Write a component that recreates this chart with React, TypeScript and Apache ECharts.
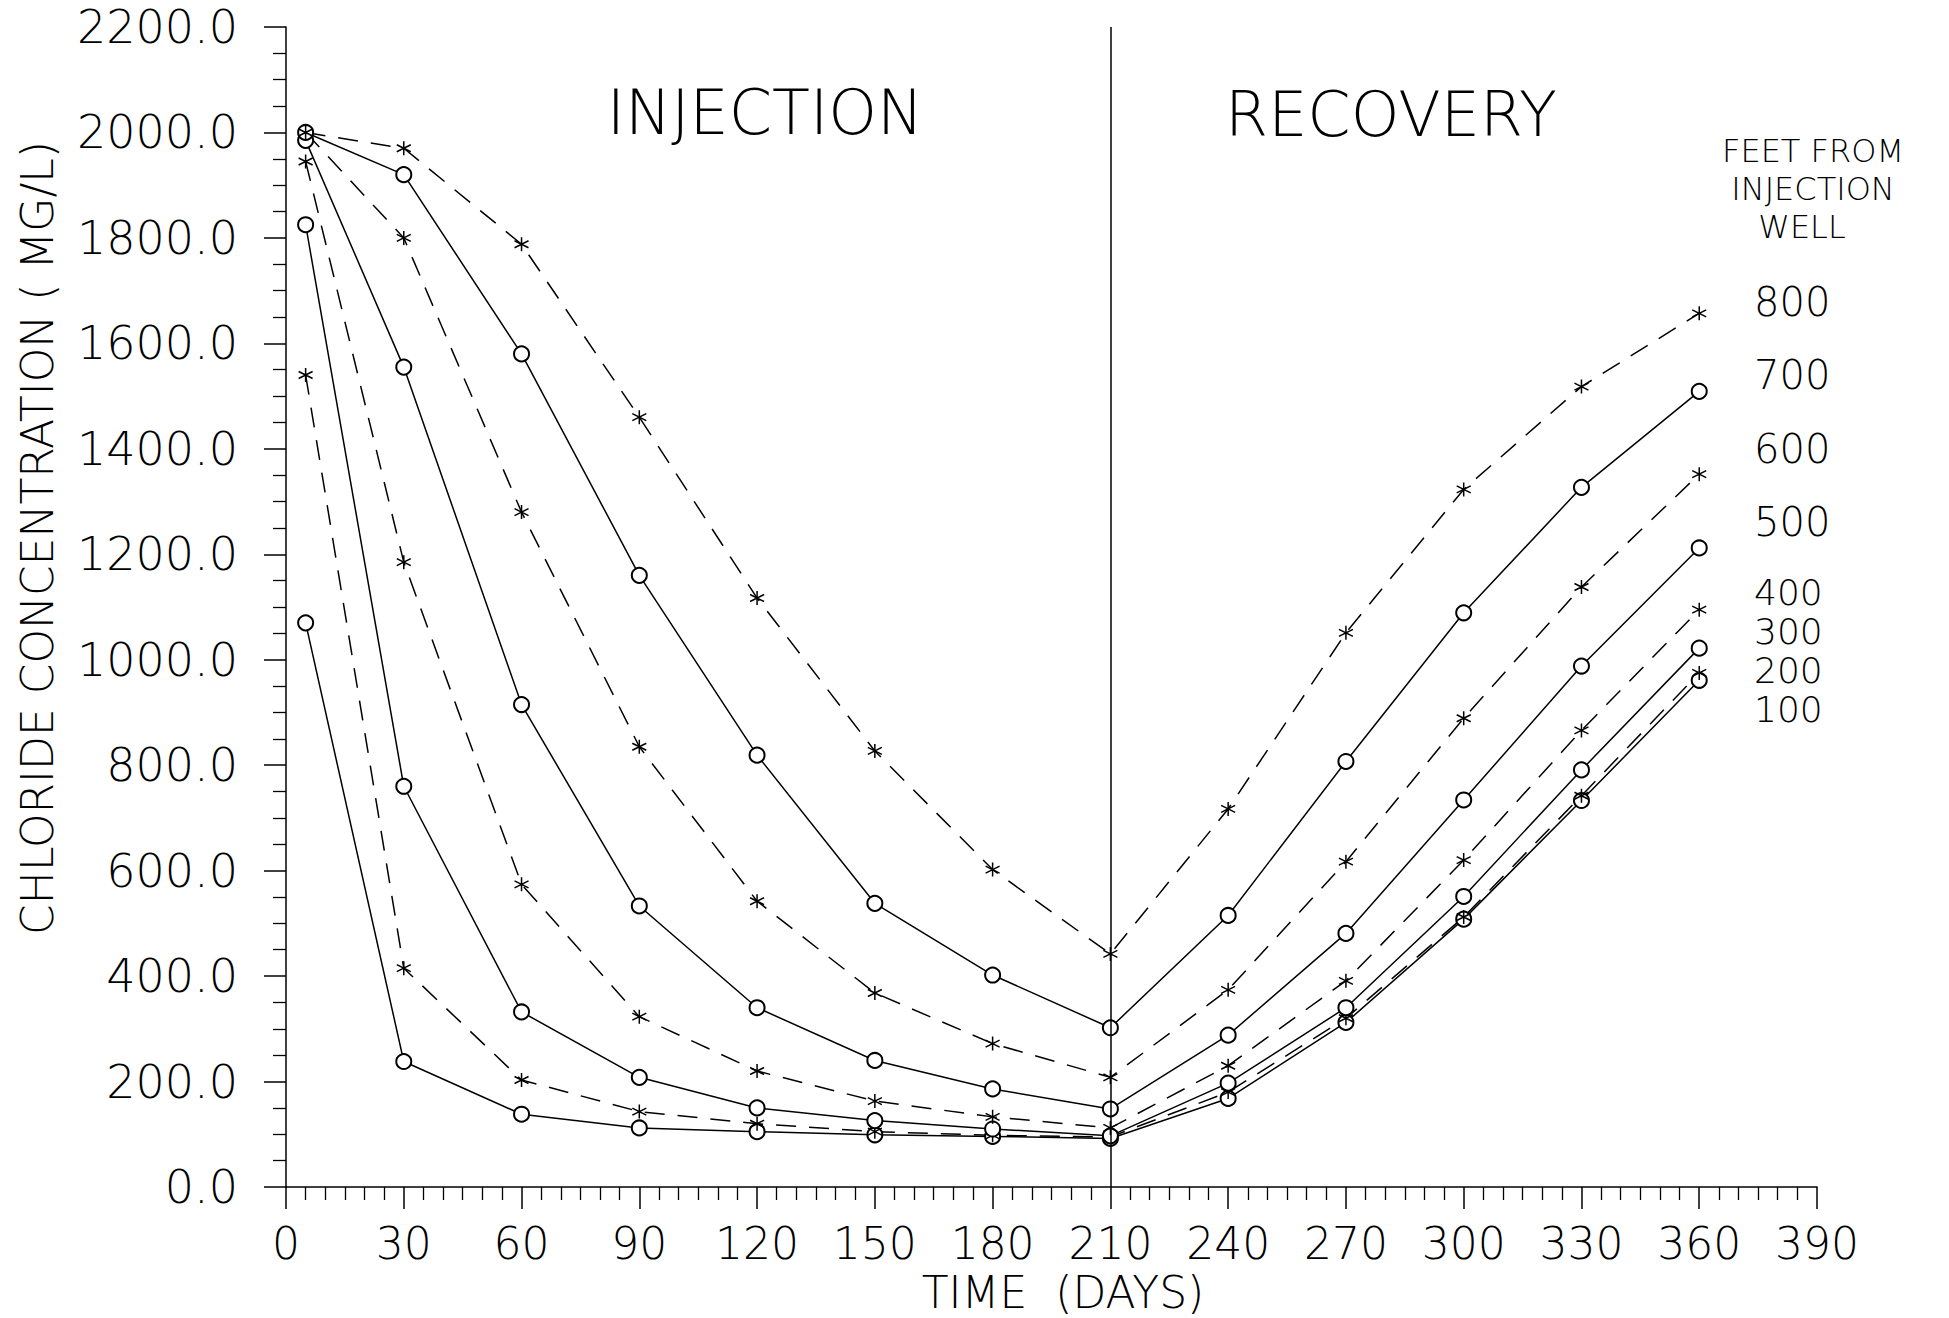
import React, { useEffect, useRef } from "react";
import * as echarts from "echarts";

const days = [5, 30, 60, 90, 120, 150, 180, 210, 240, 270, 300, 330, 360];

const ft100 = [1070, 238, 138, 112, 105, 99, 96, 92, 168, 312, 508, 733, 961];
const ft200 = [1540, 415, 203, 143, 120, 105, 98, 95, 180, 320, 512, 742, 975];
const ft300 = [1825, 760, 332, 208, 150, 126, 110, 97, 197, 340, 551, 791, 1022];
const ft400 = [1945, 1185, 574, 323, 220, 163, 133, 112, 230, 391, 620, 866, 1095];
const ft500 = [1985, 1555, 915, 533, 340, 240, 186, 148, 288, 481, 734, 988, 1212];
const ft600 = [2000, 1800, 1280, 835, 542, 368, 272, 208, 374, 617, 889, 1138, 1352];
const ft700 = [2000, 1920, 1580, 1160, 819, 538, 402, 302, 515, 807, 1089, 1327, 1509];
const ft800 = [2000, 1970, 1788, 1460, 1117, 827, 602, 442, 717, 1051, 1323, 1518, 1657];

const wellNames = ["100", "200", "300", "400", "500", "600", "700", "800"];
const wellValues = [ft100, ft200, ft300, ft400, ft500, ft600, ft700, ft800];

const xTitle = "TIME  (DAYS)";
const yTitle = "CHLORIDE CONCENTRATION ( MG/L)";
const phaseLabels = ["INJECTION", "RECOVERY"];
const legendTitle = ["FEET FROM", "INJECTION", "WELL"];
const switchDay = 210;

const FONT = '"DejaVu Sans", "Liberation Sans", sans-serif';
const STAR = "path://M10,0L10,20M1.34,5L18.66,15M1.34,15L18.66,5";

function txt(text: string, x: number, y: number, size: number, align = "center", rotation = 0, lh?: number) {
  return {
    type: "text",
    x,
    y,
    rotation,
    silent: true,
    style: {
      text,
      fill: "#000",
      fontSize: size,
      fontFamily: FONT,
      fontWeight: 200,
      lineHeight: lh ?? Math.round(size * 1.15),
      align,
      textAlign: align,
      verticalAlign: "middle",
      textVerticalAlign: "middle",
    },
  };
}

export default function App() {
  const ref = useRef<HTMLDivElement>(null);
  useEffect(() => {
    if (!ref.current) return;
    const chart = echarts.init(ref.current, null, { renderer: "svg" });

    const series = wellNames.map((name, i) => {
      const dashed = i % 2 === 1;
      const s: any = {
        name,
        type: "line",
        data: days.map((d, j) => [d, wellValues[i][j]]),
        symbol: dashed ? STAR : "emptyCircle",
        symbolSize: dashed ? 14 : 15,
        showSymbol: true,
        lineStyle: { color: "#000", width: 1.5, type: dashed ? [20, 13] : "solid" },
        itemStyle: { color: "#000", borderColor: "#000", borderWidth: 1.5 },
        z: 3,
      };
      if (i === 0) {
        s.markLine = {
          silent: true,
          symbol: ["none", "none"],
          label: { show: false },
          lineStyle: { color: "#000", width: 1.5, type: "solid" },
          data: [{ xAxis: switchDay }],
        };
      }
      return s;
    });

    const upperYs = [522, 449, 375, 302];
    const lowerYs = [709, 670, 631, 592];
    const titleYs = [151, 189, 227];

    chart.setOption({
      animation: false,
      backgroundColor: "#fff",
      grid: { left: 286, right: 132, top: 27, bottom: 131, containLabel: false, outerBoundsMode: "none" },
      xAxis: {
        type: "value",
        min: 0,
        max: 390,
        interval: 30,
        axisLine: { show: true, onZero: false, lineStyle: { color: "#000", width: 1.5 } },
        axisTick: { show: true, length: 22, lineStyle: { color: "#000", width: 1.5 } },
        minorTick: { show: true, splitNumber: 6, length: 13, lineStyle: { color: "#000", width: 1.3 } },
        splitLine: { show: false },
        axisLabel: { color: "#000", fontSize: 44, fontFamily: FONT, fontWeight: 200, margin: 34 },
      },
      yAxis: {
        type: "value",
        min: 0,
        max: 2200,
        interval: 200,
        axisLine: { show: true, lineStyle: { color: "#000", width: 1.5 } },
        axisTick: { show: true, length: 22, lineStyle: { color: "#000", width: 1.5 } },
        minorTick: { show: true, splitNumber: 4, length: 13, lineStyle: { color: "#000", width: 1.3 } },
        splitLine: { show: false },
        axisLabel: {
          color: "#000",
          fontSize: 46,
          fontFamily: FONT,
          fontWeight: 200,
          margin: 48,
          formatter: (v: number) => v.toFixed(1),
        },
      },
      graphic: [
        txt(phaseLabels[0], 765, 112, 62),
        txt(phaseLabels[1], 1391, 114, 62),
        txt(legendTitle[0], 1813, titleYs[0], 32, "center", 0, 32),
        txt(legendTitle[1], 1813, titleYs[1], 32, "center", 0, 32),
        txt(legendTitle[2], 1802, titleYs[2], 32, "center", 0, 32),
        ...wellNames.slice(4).map((n, i) => txt(n, 1754, upperYs[i], 40, "left", 0, 40)),
        ...wellNames.slice(0, 4).map((n, i) => txt(n, 1754, lowerYs[i], 36, "left", 0, 36)),
        txt(xTitle, 1063, 1292, 44, "center", 0, 44),
        txt(yTitle, 37, 538, 44, "center", Math.PI / 2),
      ],
      series,
    });
    return () => chart.dispose();
  }, []);
  return (
    <div
      ref={ref}
      style={{ position: "absolute", left: 0, top: 0, width: 1949, height: 1318, background: "#fff" }}
    />
  );
}
